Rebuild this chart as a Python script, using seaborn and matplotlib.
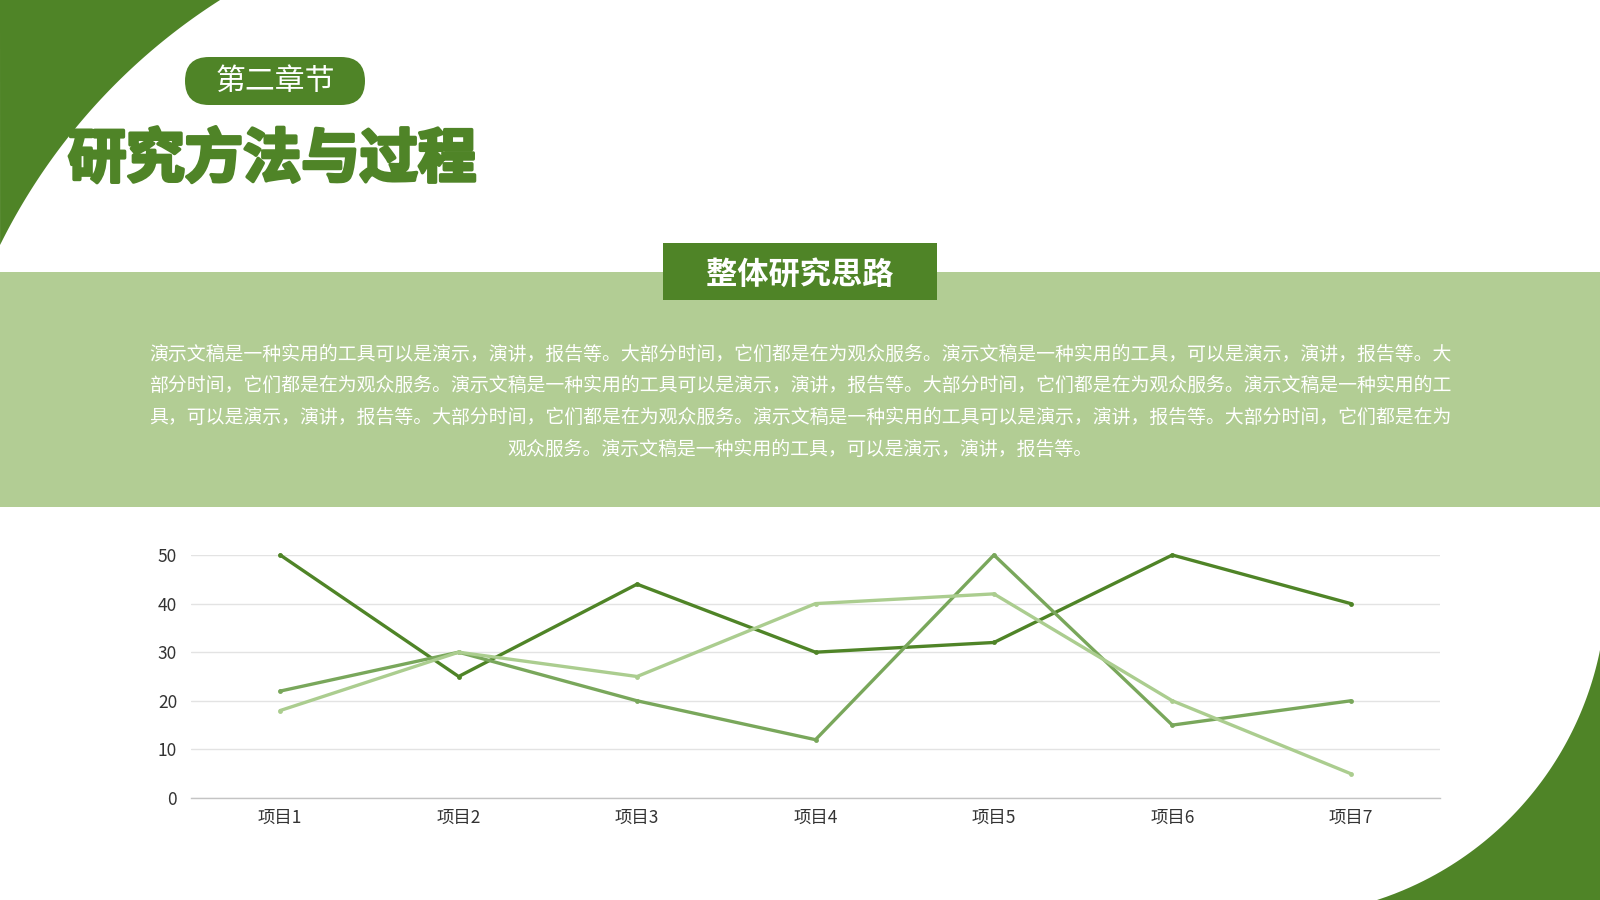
import numpy as np
import pandas as pd
import matplotlib
matplotlib.use("Agg")
import matplotlib.pyplot as plt
from matplotlib.patches import Polygon, FancyBboxPatch, Rectangle
import matplotlib.patheffects as pe
import seaborn as sns

# chart data
items = ["项目1", "项目2", "项目3", "项目4", "项目5", "项目6", "项目7"]
series_a = [50, 25, 44, 30, 32, 50, 40]
series_b = [22, 30, 20, 12, 50, 15, 20]
series_c = [18, 30, 25, 40, 42, 20, 5]
y_ticks = [0, 10, 20, 30, 40, 50]

chapter = "第二章节"
title = "研究方法与过程"
box_title = "整体研究思路"
para_lines = [
    "演示文稿是一种实用的工具可以是演示，演讲，报告等。大部分时间，它们都是在为观众服务。演示文稿是一种实用的工具，可以是演示，演讲，报告等。大",
    "部分时间，它们都是在为观众服务。演示文稿是一种实用的工具可以是演示，演讲，报告等。大部分时间，它们都是在为观众服务。演示文稿是一种实用的工",
    "具，可以是演示，演讲，报告等。大部分时间，它们都是在为观众服务。演示文稿是一种实用的工具可以是演示，演讲，报告等。大部分时间，它们都是在为",
    "观众服务。演示文稿是一种实用的工具，可以是演示，演讲，报告等。",
]

DARK = "#4f8427"
MID = "#79a75b"
LIGHT = "#abcd8f"
BAND = "#b2cd94"

sns.set_theme(style="white")
plt.rcParams["font.family"] = ["Noto Sans CJK SC", "DejaVu Sans"]

fig = plt.figure(figsize=(16, 9), dpi=100)

# background layer in pixel coordinates
bg = fig.add_axes([0, 0, 1, 1])
bg.set_xlim(0, 1600)
bg.set_ylim(900, 0)
bg.axis("off")


def arc_x(y, cx, cy, r, sign):
    return cx + sign * np.sqrt(r ** 2 - (y - cy) ** 2)


# top-left corner: outside of a big circle
ys = np.linspace(0, 245, 80)
xs = arc_x(ys, 548.7, 516.4, 612.1, -1)
xs = np.clip(xs, 0, None)
bg.add_patch(Polygon([(0, 0)] + list(zip(xs, ys)), closed=True,
                     facecolor=DARK, edgecolor="none"))

# bottom-right corner
ys = np.linspace(650, 900, 80)
xs = arc_x(ys, 1274.2, 583.8, 332.5, 1)
xs = np.clip(xs, None, 1600)
bg.add_patch(Polygon(list(zip(xs, ys)) + [(1600, 900)], closed=True,
                     facecolor=DARK, edgecolor="none"))

# chapter pill
bg.add_patch(FancyBboxPatch((185, 57), 180, 48, boxstyle="round,pad=0,rounding_size=24",
                            facecolor=DARK, edgecolor="none"))
bg.text(275, 81, chapter, color="white", fontsize=21.5, ha="center", va="center")

# main title
bg.text(68, 160, title, color=DARK, fontsize=42, fontweight="black", ha="left", va="center",
        path_effects=[pe.withStroke(linewidth=2.5, foreground=DARK)])

# light band with paragraph
bg.add_patch(Rectangle((0, 272), 1600, 235, facecolor=BAND, edgecolor="none"))
bg.add_patch(Rectangle((663, 243), 274, 57, facecolor=DARK, edgecolor="none"))
bg.text(800, 275, box_title, color="white", fontsize=22.5, fontweight="bold",
        ha="center", va="center")

for i, line in enumerate(para_lines):
    bg.text(800, 354 + i * 31.7, line, color="white", fontsize=13.6,
            ha="center", va="center")

# line chart
ax = fig.add_axes([191 / 1600, 1 - 798 / 900, 1249 / 1600, 243 / 900])
df = pd.DataFrame({
    "item": items * 3,
    "value": series_a + series_b + series_c,
    "series": ["系列1"] * 7 + ["系列2"] * 7 + ["系列3"] * 7,
})
sns.lineplot(data=df, x="item", y="value", hue="series",
             palette=[DARK, MID, LIGHT], linewidth=2.4, marker="o",
             markersize=3.5, markeredgewidth=0, legend=False, ax=ax)
for ln in ax.lines:
    ln.set_clip_on(False)

ax.set_xlim(-0.5, 6.5)
ax.set_ylim(0, 50)
ax.set_yticks(y_ticks)
ax.set_xlabel("")
ax.set_ylabel("")
ax.set_facecolor("none")
ax.yaxis.grid(True, color="#e3e3e3", linewidth=1)
ax.set_axisbelow(True)
for side in ["top", "right", "left"]:
    ax.spines[side].set_visible(False)
ax.spines["bottom"].set_color("#c4c4c4")
ax.spines["bottom"].set_linewidth(1)
ax.tick_params(axis="both", length=0, labelsize=12.5, colors="#333333")
ax.tick_params(axis="x", pad=8)
ax.tick_params(axis="y", pad=10)

fig.savefig("out.png", dpi=100)
